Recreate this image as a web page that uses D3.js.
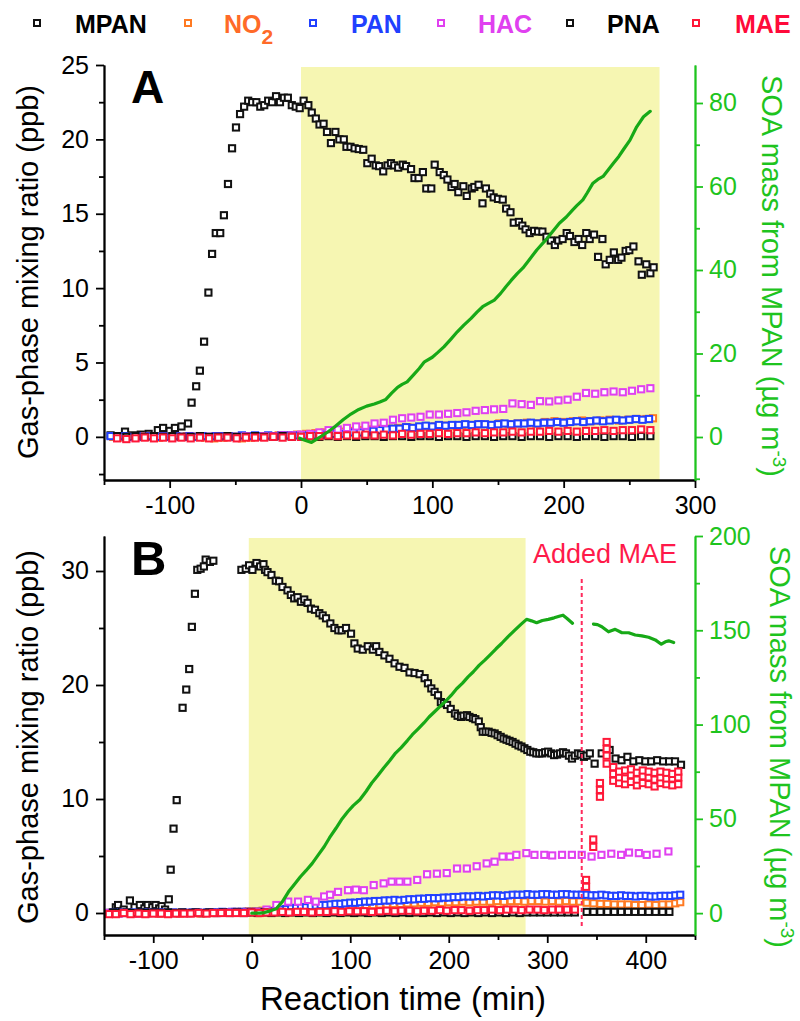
<!DOCTYPE html>
<html>
<head>
<meta charset="utf-8">
<script src="https://cdn.jsdelivr.net/npm/d3@7"></script>
<style>
  body { margin: 0; background: #fff; }
  svg { display: block; font-family: "Liberation Sans", Arial, Helvetica, sans-serif; }
</style>
</head>
<body>
<svg id="chart" width="800" height="1021"></svg>
<script>
// ---------------- data: [reaction time (min), value] ----------------
// Panel A (gas-phase, ppb)
const mpanA = [[-145,0.1],[-140,0.0],[-134,0.35],[-128,0.1],[-122,0.15],[-116,0.2],[-109,0.45],[-105,0.6],[-100,0.4],[-96,0.6],[-91,0.7],[-86,0.9],[-83.3,2.3],[-79.8,3.4],[-77,4.45],[-73.8,6.4],[-70.5,9.7],[-67.7,12.3],[-64.9,13.7],[-61.5,13.7],[-58.7,14.9],[-55.6,17.0],[-52.5,19.4],[-49.5,20.8],[-46.4,21.7],[-43.3,22.2],[-40.2,22.6],[-37.2,22.5],[-34,22.5],[-31,22.2],[-28,22.3],[-25,22.6],[-22,22.5],[-19,22.9],[-16,22.5],[-13,22.8],[-10,22.8],[-7,22.3],[-4,22.2],[-1,22.1],[2,22.6],[5.6,22.3],[8.2,21.8],[11.3,21.4],[14.1,21.0],[17.2,21.05],[19.8,20.5],[22.8,19.75],[26.2,20.5],[29.2,20.0],[32.6,20.0],[34.6,19.5],[37.7,19.5],[40.8,19.4],[44,19.35],[47.4,19.3],[50.5,18.4],[53.8,18.7],[56.9,18.25],[59.5,18.2],[62.6,17.85],[65.9,18.25],[68.5,18.4],[71,18.25],[74,18.1],[77.5,18.3],[80,18.2],[83.8,18.0],[86.4,17.4],[89.5,17.4],[92.8,17.8],[95.4,16.7],[99.2,16.7],[101.8,18.3],[105.6,17.8],[108.7,17.6],[111.5,17.3],[114.6,16.8],[117,17.0],[119.8,16.45],[123.6,16.85],[126.2,16.2],[130,16.7],[132,16.8],[135.2,16.95],[138.2,15.7],[140.8,16.7],[144.1,16.35],[146.7,16.1],[150,16.0],[153.6,15.95],[156.2,15.35],[159.5,15.1],[162,14.4],[165.9,14.45],[168.5,14.2],[171,13.95],[174.1,13.7],[177.5,13.85],[180.5,13.8],[183.8,13.8],[186.9,13.45],[190.2,13.2],[193.3,12.9],[195.9,13.2],[199.2,13.3],[202.3,13.7],[204.8,13.5],[208.2,13.1],[211.3,13.3],[214.1,12.9],[217.2,13.7],[219.8,13.3],[223.1,13.6],[226.2,12.1],[229.5,13.3],[232,11.6],[235.1,11.9],[238.2,12.4],[241.5,11.9],[244,12.05],[247.2,12.5],[250,12.55],[253.1,12.8],[257,11.8],[259.5,10.9],[262.9,11.6],[266,11.0],[268.5,11.4]];

const no2A = [[-143,0.0],[-136,-0.05],[-129,0.0],[-122,0.05],[-115,0.0],[-108,-0.05],[-101,0.0],[-94,0.0],[-87,0.05],[-80,0.0],[-73,-0.05],[-66,-0.1],[-59,-0.05],[-52,0.0],[-45,-0.1],[-38,-0.05],[-31,0.0],[-24,0.05],[-17,0.1],[-10,0.1],[-3,0.15],[4,0.2],[11,0.25],[18,0.3],[25,0.3],[32,0.35],[39,0.4],[46,0.45],[53,0.5],[60,0.55],[67,0.55],[74,0.6],[81,0.65],[88,0.6],[95,0.7],[102,0.7],[109,0.75],[116,0.75],[123,0.8],[130,0.8],[137,0.85],[144,0.8],[151,0.9],[158,0.85],[165,0.9],[172,0.95],[179,0.9],[186,1.0],[193,1.05],[200,1.0],[207,1.05],[214,1.1],[221,1.05],[228,1.1],[235,1.15],[242,1.1],[249,1.15],[256,1.2],[263,1.2],[268,1.25]];

const panA = [[-145,0.05],[-140,0.0],[-135,0.05],[-130,0.0],[-125,0.05],[-120,0.0],[-115,0.05],[-110,0.0],[-105,0.05],[-100,0.0],[-95,0.05],[-90,0.0],[-85,0.05],[-80,0.0],[-75,0.05],[-70,0.0],[-65,0.05],[-60,0.05],[-55,0.05],[-50,0.0],[-45,0.1],[-40,0.05],[-35,0.1],[-30,0.05],[-25,0.1],[-20,0.05],[-15,0.1],[-10,0.1],[-5,0.1],[0,0.1],[5,0.1],[10,0.1],[15,0.15],[20,0.15],[25,0.2],[30,0.2],[35,0.25],[40,0.3],[45,0.3],[50,0.35],[55,0.4],[60,0.45],[65,0.5],[70,0.55],[75,0.55],[80,0.65],[85,0.6],[90,0.7],[95,0.75],[100,0.7],[105,0.8],[110,0.75],[115,0.8],[120,0.8],[125,0.85],[130,0.8],[135,0.85],[140,0.85],[145,0.8],[150,0.85],[155,0.9],[160,0.85],[165,0.9],[170,0.9],[175,0.95],[180,0.9],[185,0.95],[190,0.95],[195,1.0],[200,0.95],[205,1.0],[210,1.05],[215,1.0],[220,1.05],[225,1.1],[230,1.05],[235,1.1],[240,1.15],[245,1.1],[250,1.15],[255,1.2],[260,1.15],[265,1.2]];

const hacA = [[-140,0.0],[-133,-0.1],[-126,-0.05],[-119,0.0],[-112,0.05],[-105,0.0],[-98,-0.05],[-91,0.0],[-84,0.0],[-77,0.05],[-70,0.0],[-63,0.0],[-56,0.05],[-49,0.0],[-42,0.05],[-35,0.0],[-28,0.05],[-21,0.05],[-14,0.1],[-7,0.1],[0,0.15],[7,0.2],[14,0.3],[21,0.45],[28,0.5],[35,0.6],[42,0.7],[49,0.75],[56,0.9],[63,0.95],[70,1.15],[77,1.25],[84,1.3],[91,1.35],[98,1.5],[105,1.5],[112,1.55],[119,1.6],[126,1.65],[133,1.75],[140,1.8],[147,1.85],[154,1.88],[161,2.25],[168,2.2],[175,2.15],[182,2.4],[189,2.38],[196,2.45],[203,2.5],[210,2.7],[217,2.95],[224,2.9],[231,3.0],[238,3.05],[245,3.0],[252,3.1],[259,3.2],[266,3.27]];

const pnaA = [[-140,0.05],[-133,0.0],[-126,0.05],[-119,0.0],[-112,0.05],[-105,0.0],[-98,0.05],[-91,0.0],[-84,0.0],[-77,0.05],[-70,0.0],[-63,0.0],[-56,0.05],[-49,0.0],[-42,0.0],[-35,0.05],[-28,0.0],[-21,0.0],[-14,0.05],[-7,0.0],[0,0.0],[7,0.05],[14,0.0],[21,0.05],[28,0.0],[35,0.05],[42,0.0],[49,0.05],[56,0.05],[63,0.0],[70,0.05],[77,0.05],[84,0.0],[91,0.05],[98,0.05],[105,0.0],[112,0.05],[119,0.05],[126,0.0],[133,0.05],[140,0.05],[147,0.0],[154,0.05],[161,0.05],[168,0.0],[175,0.05],[182,0.05],[189,0.0],[196,0.05],[203,0.05],[210,0.0],[217,0.05],[224,0.05],[231,0.0],[238,0.05],[245,0.05],[252,0.0],[259,0.05],[266,0.05]];

const maeA = [[-140,-0.1],[-133,-0.15],[-126,-0.1],[-119,-0.05],[-112,-0.1],[-105,-0.05],[-98,-0.1],[-91,-0.05],[-84,-0.1],[-77,-0.05],[-70,-0.1],[-63,-0.05],[-56,-0.05],[-49,-0.1],[-42,-0.05],[-35,-0.05],[-28,-0.05],[-21,0.0],[-14,-0.05],[-7,0.0],[0,0.0],[7,0.05],[14,0.05],[21,0.1],[28,0.05],[35,0.1],[42,0.1],[49,0.15],[56,0.1],[63,0.15],[70,0.1],[77,0.2],[84,0.15],[91,0.2],[98,0.2],[105,0.25],[112,0.2],[119,0.25],[126,0.25],[133,0.3],[140,0.25],[147,0.3],[154,0.3],[161,0.35],[168,0.3],[175,0.35],[182,0.35],[189,0.4],[196,0.35],[203,0.4],[210,0.35],[217,0.4],[224,0.4],[231,0.45],[238,0.4],[245,0.45],[252,0.45],[259,0.5],[266,0.45]];

// Panel A SOA mass (µg m-3)
const soaA = [[-1,-0.3],[3,-0.8],[8,-1.3],[12,-0.5],[16,0.3],[20.4,1.2],[26,2.5],[32.3,4.2],[38,5.5],[44,6.6],[50,7.4],[55.8,7.9],[60,8.4],[64.6,9.0],[69,10.5],[73.5,11.9],[77,12.6],[80.8,13.2],[86,15.0],[90,16.4],[94,18.0],[100,19.1],[104,20.2],[108.8,21.6],[114,23.4],[119,25.2],[124,26.8],[129.5,28.4],[134,29.9],[138.3,31.2],[142,31.9],[147.2,32.8],[152,34.4],[156,36.0],[160,37.5],[164.8,39.2],[169,40.5],[173.7,42.4],[179.5,44.8],[186.4,47.2],[191,49.0],[196.7,51.2],[202,52.7],[206.9,54.4],[210,55.4],[214.6,56.8],[218,58.5],[222.3,60.8],[226,61.7],[230,62.4],[234,64.0],[237.7,65.5],[242,67.2],[245.4,68.8],[250.5,71.1],[255.6,74.3],[260.8,76.7],[265.9,78.0]];

// Panel B (gas-phase, ppb)
const mpanB = [[-143.8,0.0],[-138,0.5],[-135.7,0.7],[-130,0.3],[-123.7,1.1],[-119,0.5],[-113.6,0.7],[-109,0.4],[-105.6,0.7],[-101,0.5],[-97.6,0.7],[-94,0.4],[-91.5,0.6],[-88,0.3],[-84.2,1.2],[-82.3,3.8],[-79.4,7.4],[-76.2,9.9],[-70.2,18.0],[-66.5,19.6],[-63.5,21.4],[-60.8,25.1],[-57.7,28.0],[-55.3,30.1],[-51.9,30.2],[-48.6,30.4],[-46.8,31.0],[-42.5,30.8],[-39,30.9],[-10.5,30.1],[-6.1,30.2],[-2.7,30.5],[0.7,30.1],[4.8,30.7],[8.5,30.4],[11.9,30.6],[13.5,30.1],[16,29.9],[20,29.65],[24.4,29.15],[27.8,29.1],[31.2,28.6],[36.3,28.3],[39.7,27.9],[43.1,27.6],[46.5,27.7],[49.9,27.3],[53.3,27.5],[56.7,27.2],[60.1,26.7],[64.2,26.6],[68.6,26.3],[72,26.1],[75.4,25.85],[79.8,25.4],[83.9,25.0],[87.9,24.8],[91.3,24.8],[95.7,25.0],[100.8,24.5],[104.2,23.65],[107.6,23.2],[112.7,23.1],[117.8,23.4],[122.9,23.1],[126.3,23.4],[129.6,22.9],[134.7,22.6],[139.8,22.3],[145,21.9],[150,21.6],[155.1,21.5],[160.2,21.1],[165.3,21.05],[170.4,20.95],[175.5,20.6],[178.9,20.15],[182.3,19.7],[185.6,19.4],[189.1,19.1],[192,18.5],[195,18.4],[198.3,18.25],[202,17.9],[206.3,17.5],[209,17.3],[212.4,17.2],[215,17.3],[218.5,17.35],[221,17.2],[224.5,17.1],[227,17.0],[230.5,16.8],[232.5,16.3],[234.5,15.9],[237.5,15.9],[240.5,15.9],[243.5,15.8],[246.6,15.75],[249.6,15.6],[252.7,15.45],[255.7,15.3],[258.7,15.2],[261.7,15.1],[264.8,15.0],[267.8,14.85],[270.8,14.7],[273.8,14.6],[276.8,14.45],[279.8,14.3],[282.8,14.15],[285.8,14.1],[288.9,14.0],[291.9,14.0],[294.9,14.0],[297.9,14.1],[300.9,14.15],[304,14.0],[307,13.85],[310,13.9],[313,14.0],[316,14.1],[319,14.0],[322,13.8],[325.1,13.55],[328,13.8],[331.2,14.0],[334,13.9],[337.2,13.7],[340,13.8],[343.2,14.0],[348.1,13.1],[355.3,14.0],[363.3,14.3],[369.4,13.55],[375.4,13.4],[381.4,13.7],[387.5,13.3],[393.5,13.4],[399.6,13.3],[405.6,13.3],[411.6,13.4],[417.7,13.3],[423.7,13.3],[429.7,13.3],[435.8,13.0]];

const no2B = [[-143,0.0],[-136,-0.05],[-129,0.0],[-122,0.0],[-115,-0.05],[-108,0.0],[-101,0.0],[-94,-0.05],[-87,0.0],[-80,0.0],[-73,-0.05],[-66,0.0],[-59,0.0],[-52,-0.05],[-45,0.0],[-38,0.0],[-31,0.05],[-24,0.05],[-17,0.1],[-10,0.1],[-3,0.15],[4,0.15],[11,0.2],[18,0.2],[25,0.25],[32,0.25],[39,0.3],[46,0.35],[53,0.35],[60,0.4],[67,0.45],[74,0.5],[81,0.5],[88,0.55],[95,0.6],[102,0.65],[109,0.65],[116,0.7],[123,0.7],[130,0.75],[137,0.75],[144,0.8],[151,0.8],[158,0.85],[165,0.85],[172,0.9],[179,0.9],[186,0.95],[193,0.9],[200,0.95],[207,0.95],[214,1.0],[221,0.95],[228,1.0],[235,1.0],[242,1.0],[249,1.05],[256,1.0],[263,1.05],[270,1.05],[277,1.0],[284,1.05],[291,1.05],[298,1.0],[305,1.05],[312,1.0],[319,1.05],[326,1.0],[333,1.0],[340,0.9],[347,0.85],[354,0.8],[361,0.8],[368,0.75],[375,0.75],[382,0.75],[389,0.7],[396,0.7],[403,0.75],[410,0.7],[417,0.75],[424,0.75],[430,0.85],[435,0.95]];

const panB = [[-145,0.0],[-140,0.05],[-135,0.0],[-130,0.05],[-125,0.0],[-120,0.05],[-115,0.0],[-110,0.05],[-105,0.0],[-100,0.05],[-95,0.0],[-90,0.05],[-85,0.0],[-80,0.05],[-75,0.0],[-70,0.05],[-65,0.0],[-60,0.05],[-55,0.05],[-50,0.0],[-45,0.05],[-40,0.05],[-35,0.05],[-30,0.1],[-25,0.05],[-20,0.1],[-15,0.1],[-10,0.1],[-5,0.1],[0,0.1],[5,0.1],[10,0.1],[15,0.15],[20,0.15],[25,0.2],[30,0.3],[35,0.35],[40,0.4],[45,0.45],[50,0.5],[55,0.5],[60,0.6],[65,0.65],[70,0.7],[75,0.7],[80,0.75],[85,0.8],[90,0.8],[95,0.85],[100,0.9],[105,0.9],[110,0.95],[115,1.0],[120,1.0],[125,1.05],[130,1.05],[135,1.1],[140,1.1],[145,1.15],[150,1.1],[155,1.15],[160,1.2],[165,1.2],[170,1.25],[175,1.25],[180,1.3],[185,1.3],[190,1.3],[195,1.35],[200,1.35],[205,1.4],[210,1.4],[215,1.45],[220,1.45],[225,1.45],[230,1.5],[235,1.45],[240,1.5],[245,1.55],[250,1.55],[255,1.5],[260,1.55],[265,1.6],[270,1.6],[275,1.6],[280,1.65],[285,1.6],[290,1.6],[295,1.65],[300,1.65],[305,1.6],[310,1.6],[315,1.65],[320,1.65],[325,1.6],[330,1.6],[335,1.6],[340,1.6],[345,1.55],[350,1.55],[355,1.6],[360,1.55],[365,1.5],[370,1.5],[375,1.55],[380,1.5],[385,1.5],[390,1.45],[395,1.5],[400,1.5],[405,1.45],[410,1.45],[415,1.5],[420,1.5],[425,1.5],[430,1.55],[435,1.6]];

const hacB = [[-145,0.0],[-135,-0.05],[-125,0.0],[-115,-0.05],[-105,0.0],[-95,0.0],[-85,-0.05],[-75,0.0],[-65,0.0],[-55,0.0],[-45,0.0],[-35,0.0],[-25,0.05],[-15,0.05],[-5,0.05],[5,0.1],[15,0.3],[25,0.7],[37,1.0],[47,1.0],[57,1.15],[65,1.0],[73.5,1.45],[79.5,1.6],[87.6,1.85],[97.7,2.0],[105.7,2.05],[113.8,2.0],[123.8,2.45],[133.9,2.6],[142,2.75],[150,2.75],[158,2.75],[168,2.9],[178,3.4],[188,3.45],[198,3.5],[208.4,3.9],[218.4,3.9],[228.4,4.1],[238.5,4.35],[246.5,4.5],[254.6,4.95],[262,4.95],[268.7,5.1],[278.8,5.25],[287,5.1],[297,5.1],[305,5.05],[315,5.1],[325,5.1],[335,5.1],[345,4.95],[355,5.1],[365,5.2],[375,5.1],[383,5.3],[393,5.25],[401,5.1],[411,5.2],[423,5.4]];

const pnaB = [[-141,0.05],[-134,0.0],[-127,0.05],[-120,0.0],[-113,0.05],[-106,0.0],[-99,0.05],[-92,0.0],[-85,0.05],[-78,0.0],[-71,0.05],[-64,0.0],[-57,0.05],[-50,0.0],[-43,0.05],[-36,0.0],[-29,0.05],[-22,0.0],[-15,0.05],[-8,0.0],[-1,0.05],[6,0.0],[13,0.05],[20,0.0],[27,0.05],[34,0.0],[41,0.05],[48,0.0],[55,0.05],[62,0.0],[69,0.05],[76,0.0],[83,0.05],[90,0.0],[97,0.05],[104,0.0],[111,0.05],[118,0.0],[125,0.05],[132,0.0],[139,0.05],[146,0.0],[153,0.05],[160,0.0],[167,0.05],[174,0.0],[181,0.05],[188,0.0],[195,0.05],[202,0.0],[209,0.05],[216,0.0],[223,0.05],[230,0.0],[237,0.05],[244,0.0],[251,0.05],[258,0.0],[265,0.05],[272,0.0],[279,0.05],[286,0.05],[293,0.05],[300,0.05],[307,0.05],[314,0.05],[321,0.05],[328,0.05],[340,0.1],[347,0.1],[354,0.1],[361,0.1],[368,0.1],[375,0.1],[382,0.1],[389,0.1],[396,0.1],[403,0.1],[410,0.1],[417,0.1],[424,0.1]];

const maeB = [[-145,-0.1],[-138,-0.1],[-130,0.0],[-123,-0.1],[-115,-0.05],[-108,-0.1],[-100,-0.05],[-92,-0.05],[-85,-0.1],[-77,-0.05],[-69,-0.05],[-62,-0.05],[-54,0.0],[-46,-0.05],[-39,0.0],[-31,0.0],[-23,0.0],[-16,0.0],[-8,0.0],[0,0.05],[8,0.0],[15,0.05],[23,0.05],[31,0.1],[38,0.05],[46,0.1],[53,0.1],[61,0.05],[69,0.1],[76,0.1],[84,0.15],[91,0.1],[99,0.15],[107,0.15],[114,0.15],[122,0.1],[130,0.15],[137,0.2],[145,0.15],[152,0.2],[160,0.2],[168,0.15],[175,0.2],[183,0.2],[191,0.25],[198,0.2],[206,0.25],[213,0.25],[221,0.2],[229,0.25],[236,0.25],[244,0.3],[252,0.25],[259,0.3],[267,0.3],[274,0.25],[282,0.3],[290,0.3],[297,0.25],[305,0.3],[312,0.3],[320,0.3],[328,0.3],
  [339.4,2.3],[339.4,2.9],[346.7,5.8],[346.7,6.45],[353.5,10.2],[353.5,10.8],[353.5,11.4],[360.3,13.1],[360.3,13.8],[360.3,14.4],[360.3,15.0],[367,11.6],[367,12.2],[367,12.8],[373,11.4],[373,11.9],[373,12.4],[379,11.3],[379,11.8],[379,12.5],[385,11.5],[385,12.1],[385,12.6],[391,11.2],[391,11.7],[391,12.3],[397,11.4],[397,12.0],[397,12.5],[403,11.3],[403,11.9],[403,12.4],[409,11.1],[409,11.7],[409,12.3],[415,11.4],[415,11.9],[415,12.4],[421,11.3],[421,11.8],[421,12.3],[427,11.2],[427,11.8],[427,12.2],[433,11.3],[433,11.9],[433,12.4]];

// Panel B SOA mass (µg m-3), interrupted while MAE was added
const soaB1 = [[0,0.0],[8,0.0],[13,0.3],[19,1.2],[25.2,2.5],[31,6.0],[37.3,11.3],[43,15.0],[49.4,19.3],[55,22.5],[61.4,26.4],[67,30.5],[73.5,35.2],[79,40.0],[85.5,45.0],[91,49.5],[97.6,53.9],[103,57.0],[109.7,60.1],[116,64.5],[121.8,69.0],[128,73.0],[133.9,77.0],[140,80.8],[146,84.9],[151.7,87.8],[158,91.5],[163,94.6],[168.7,97.6],[175,101.0],[180,104.0],[185.6,106.8],[191,109.5],[197,112.5],[202.6,115.6],[208,119.0],[214,122.0],[219.6,125.3],[225,128.0],[231,131.5],[236.6,134.2],[242,137.0],[248,140.2],[253.6,143.0],[260,146.5],[267.1,150.1],[273,153.0],[279,155.8],[284,155.0],[289.2,154.0],[295,155.2],[301.1,155.8],[307,156.6],[313,157.6],[316,158.0],[319.8,156.4],[325.6,153.7]];
const soaB2 = [[346.9,153.3],[351,153.0],[355.4,151.9],[362.2,149.2],[369,150.5],[375.8,148.7],[382.6,148.7],[389.3,147.5],[396.1,147.0],[402.9,146.3],[409.7,144.9],[415.8,142.6],[419.9,143.9],[423.3,144.4],[428.4,143.5]];

// Irradiation periods (min) and time of MAE addition
const lightsA = [0, 273];
const lightsB = [-3, 278];
const maeAddedAt = 335;

// Axis ticks
const xTicksA = [-100, 0, 100, 200, 300], xMinorA = [-150, -50, 50, 150, 250];
const xTicksB = [-100, 0, 100, 200, 300, 400], xMinorB = [-150, -50, 50, 150, 250, 350, 450];
const yTicksA = [0, 5, 10, 15, 20, 25], yMinorA = [-2.5, 2.5, 7.5, 12.5, 17.5, 22.5];
const y2TicksA = [0, 20, 40, 60, 80], y2MinorA = [-10, 10, 30, 50, 70];
const yTicksB = [0, 10, 20, 30], yMinorB = [5, 15, 25];
const y2TicksB = [0, 50, 100, 150, 200], y2MinorB = [25, 75, 125, 175];

// Legend entries
const speciesNames = ["MPAN", "NO2", "PAN", "HAC", "PNA", "MAE"];
const speciesColors = ["#111111", "#ff7a22", "#2140ff", "#e040f0", "#111111", "#ff1838"];
const legendTextColors = ["#000000", "#ff6a28", "#2140ff", "#e040f0", "#000000", "#ff0a3a"];

// ---------------- drawing ----------------
const svg = d3.select("#chart");
const GREEN_LINE = "#17a917";
const GREEN_AXIS = "#1ec41e";
const SHADE = "#f6f6b2";
const L = 104, R = 695;

function styleAxis(g, color) {
  g.attr("font-family", null).attr("font-size", null);
  g.select(".domain").attr("stroke", color).attr("stroke-width", 1.8);
  g.selectAll(".tick line").attr("stroke", color).attr("stroke-width", 1.8);
  g.selectAll(".tick text").attr("fill", color).attr("font-size", 25);
}

function drawPanel(cfg) {
  const g = svg.append("g");
  const x = d3.scaleLinear().domain(cfg.xDomain).range([L, R]);
  const y = d3.scaleLinear().domain(cfg.yDomain).range([cfg.bottom, cfg.top]);
  const y2 = d3.scaleLinear().domain(cfg.y2Domain).range([cfg.bottom, cfg.top]);

  // light-on period
  g.append("rect")
    .attr("x", x(cfg.lights[0])).attr("y", cfg.top + 2)
    .attr("width", x(cfg.lights[1]) - x(cfg.lights[0]))
    .attr("height", cfg.bottom - cfg.top - 2)
    .attr("fill", SHADE);

  // gas-phase species as open squares
  cfg.series.forEach((data, i) => {
    g.append("g").selectAll("rect").data(data).join("rect")
      .attr("x", d => x(d[0]) - 3.1).attr("y", d => y(d[1]) - 3.1)
      .attr("width", 6.2).attr("height", 6.2)
      .attr("fill", "#fff").attr("stroke", speciesColors[i]).attr("stroke-width", 2);
  });

  // SOA mass on the right axis
  const line = d3.line().x(d => x(d[0])).y(d => y2(d[1]));
  cfg.soa.forEach(seg => {
    g.append("path").attr("d", line(seg))
      .attr("fill", "none").attr("stroke", GREEN_LINE).attr("stroke-width", 3.2)
      .attr("stroke-linejoin", "round").attr("stroke-linecap", "round");
  });

  if (cfg.after) cfg.after(g, x, y, y2);

  // axes
  const fmt = d => String(d);
  const bx = g.append("g").attr("transform", `translate(0,${cfg.bottom})`);
  bx.append("g").call(d3.axisBottom(x).tickValues(cfg.xMinor).tickSize(5).tickSizeOuter(0).tickFormat(""));
  bx.append("g").call(d3.axisBottom(x).tickValues(cfg.xTicks).tickSize(8).tickSizeOuter(0).tickPadding(8).tickFormat(fmt));
  bx.selectAll("g").each(function () { styleAxis(d3.select(this), "#000"); });

  const ly = g.append("g").attr("transform", `translate(${L},0)`);
  ly.append("g").call(d3.axisLeft(y).tickValues(cfg.yMinor).tickSize(5).tickSizeOuter(0).tickFormat(""));
  ly.append("g").call(d3.axisLeft(y).tickValues(cfg.yTicks).tickSize(8).tickSizeOuter(0).tickPadding(7).tickFormat(fmt));
  ly.selectAll("g").each(function () { styleAxis(d3.select(this), "#000"); });

  const ry = g.append("g").attr("transform", `translate(${R},0)`);
  ry.append("g").call(d3.axisRight(y2).tickValues(cfg.y2Minor).tickSize(5).tickSizeOuter(0).tickFormat(""));
  ry.append("g").call(d3.axisRight(y2).tickValues(cfg.y2Ticks).tickSize(8).tickSizeOuter(0).tickPadding(6).tickFormat(fmt));
  ry.selectAll("g").each(function () { styleAxis(d3.select(this), GREEN_AXIS); });

  // panel letter
  g.append("text").attr("x", 131).attr("y", cfg.letterY)
    .attr("font-size", cfg.letterSize).attr("font-weight", "bold").text(cfg.letter);

  // axis titles
  g.append("text")
    .attr("transform", `translate(38,${cfg.leftTitleY}) rotate(-90)`)
    .attr("text-anchor", "middle").attr("font-size", 29)
    .text("Gas-phase mixing ratio (ppb)");

  const rt = g.append("text")
    .attr("transform", `translate(${cfg.rightTitleX},${cfg.rightTitleY}) rotate(90)`)
    .attr("text-anchor", "middle").attr("font-size", 29).attr("fill", GREEN_AXIS);
  rt.append("tspan").text("SOA mass from MPAN (\u00b5g m");
  rt.append("tspan").attr("font-size", 19).attr("dy", -11).text("-3");
  rt.append("tspan").attr("dy", 11).text(")");
}

drawPanel({
  xDomain: [-150, 300], yDomain: [-2.9, 25], y2Domain: [-10.3, 89.1],
  top: 65, bottom: 480, lights: lightsA,
  series: [mpanA, no2A, panA, hacA, pnaA, maeA],
  soa: [soaA],
  xTicks: xTicksA, xMinor: xMinorA, yTicks: yTicksA, yMinor: yMinorA,
  y2Ticks: y2TicksA, y2Minor: y2MinorA,
  letter: "A", letterY: 103, letterSize: 46,
  leftTitleY: 272, rightTitleX: 762, rightTitleY: 276
});

drawPanel({
  xDomain: [-150, 450], yDomain: [-1.93, 33.07], y2Domain: [-11.6, 200],
  top: 536, bottom: 935, lights: lightsB,
  series: [mpanB, no2B, panB, hacB, pnaB, maeB],
  soa: [soaB1, soaB2],
  xTicks: xTicksB, xMinor: xMinorB, yTicks: yTicksB, yMinor: yMinorB,
  y2Ticks: y2TicksB, y2Minor: y2MinorB,
  letter: "B", letterY: 575, letterSize: 49,
  leftTitleY: 737, rightTitleX: 770, rightTitleY: 747,
  after: (g, x, y, y2) => {
    g.append("line")
      .attr("x1", x(maeAddedAt)).attr("x2", x(maeAddedAt))
      .attr("y1", 579).attr("y2", 927)
      .attr("stroke", "#ff2a5c").attr("stroke-width", 2)
      .attr("stroke-dasharray", "4,3");
    g.append("text").attr("x", 533).attr("y", 563)
      .attr("font-size", 27).attr("fill", "#ff1a4a").text("Added MAE");
  }
});

// x-axis title
svg.append("text").attr("x", 403).attr("y", 1010).attr("text-anchor", "middle")
  .attr("font-size", 33).text("Reaction time (min)");

// legend
const legendMarkX = [37, 188, 313, 441, 570, 696];
const legendTextX = [75, 224, 351, 478, 607, 735];
const legend = svg.append("g");
speciesNames.forEach((name, i) => {
  legend.append("rect")
    .attr("x", legendMarkX[i] - 3).attr("y", 20)
    .attr("width", 6).attr("height", 6)
    .attr("fill", "#fff").attr("stroke", speciesColors[i]).attr("stroke-width", 2);
  const t = legend.append("text").attr("x", legendTextX[i]).attr("y", 33)
    .attr("font-size", 25).attr("font-weight", "bold").attr("fill", legendTextColors[i]);
  if (name === "NO2") {
    t.append("tspan").text("NO");
    t.append("tspan").attr("dy", 11).attr("font-size", 21).text("2");
  } else {
    t.text(name);
  }
});
</script>
</body>
</html>
